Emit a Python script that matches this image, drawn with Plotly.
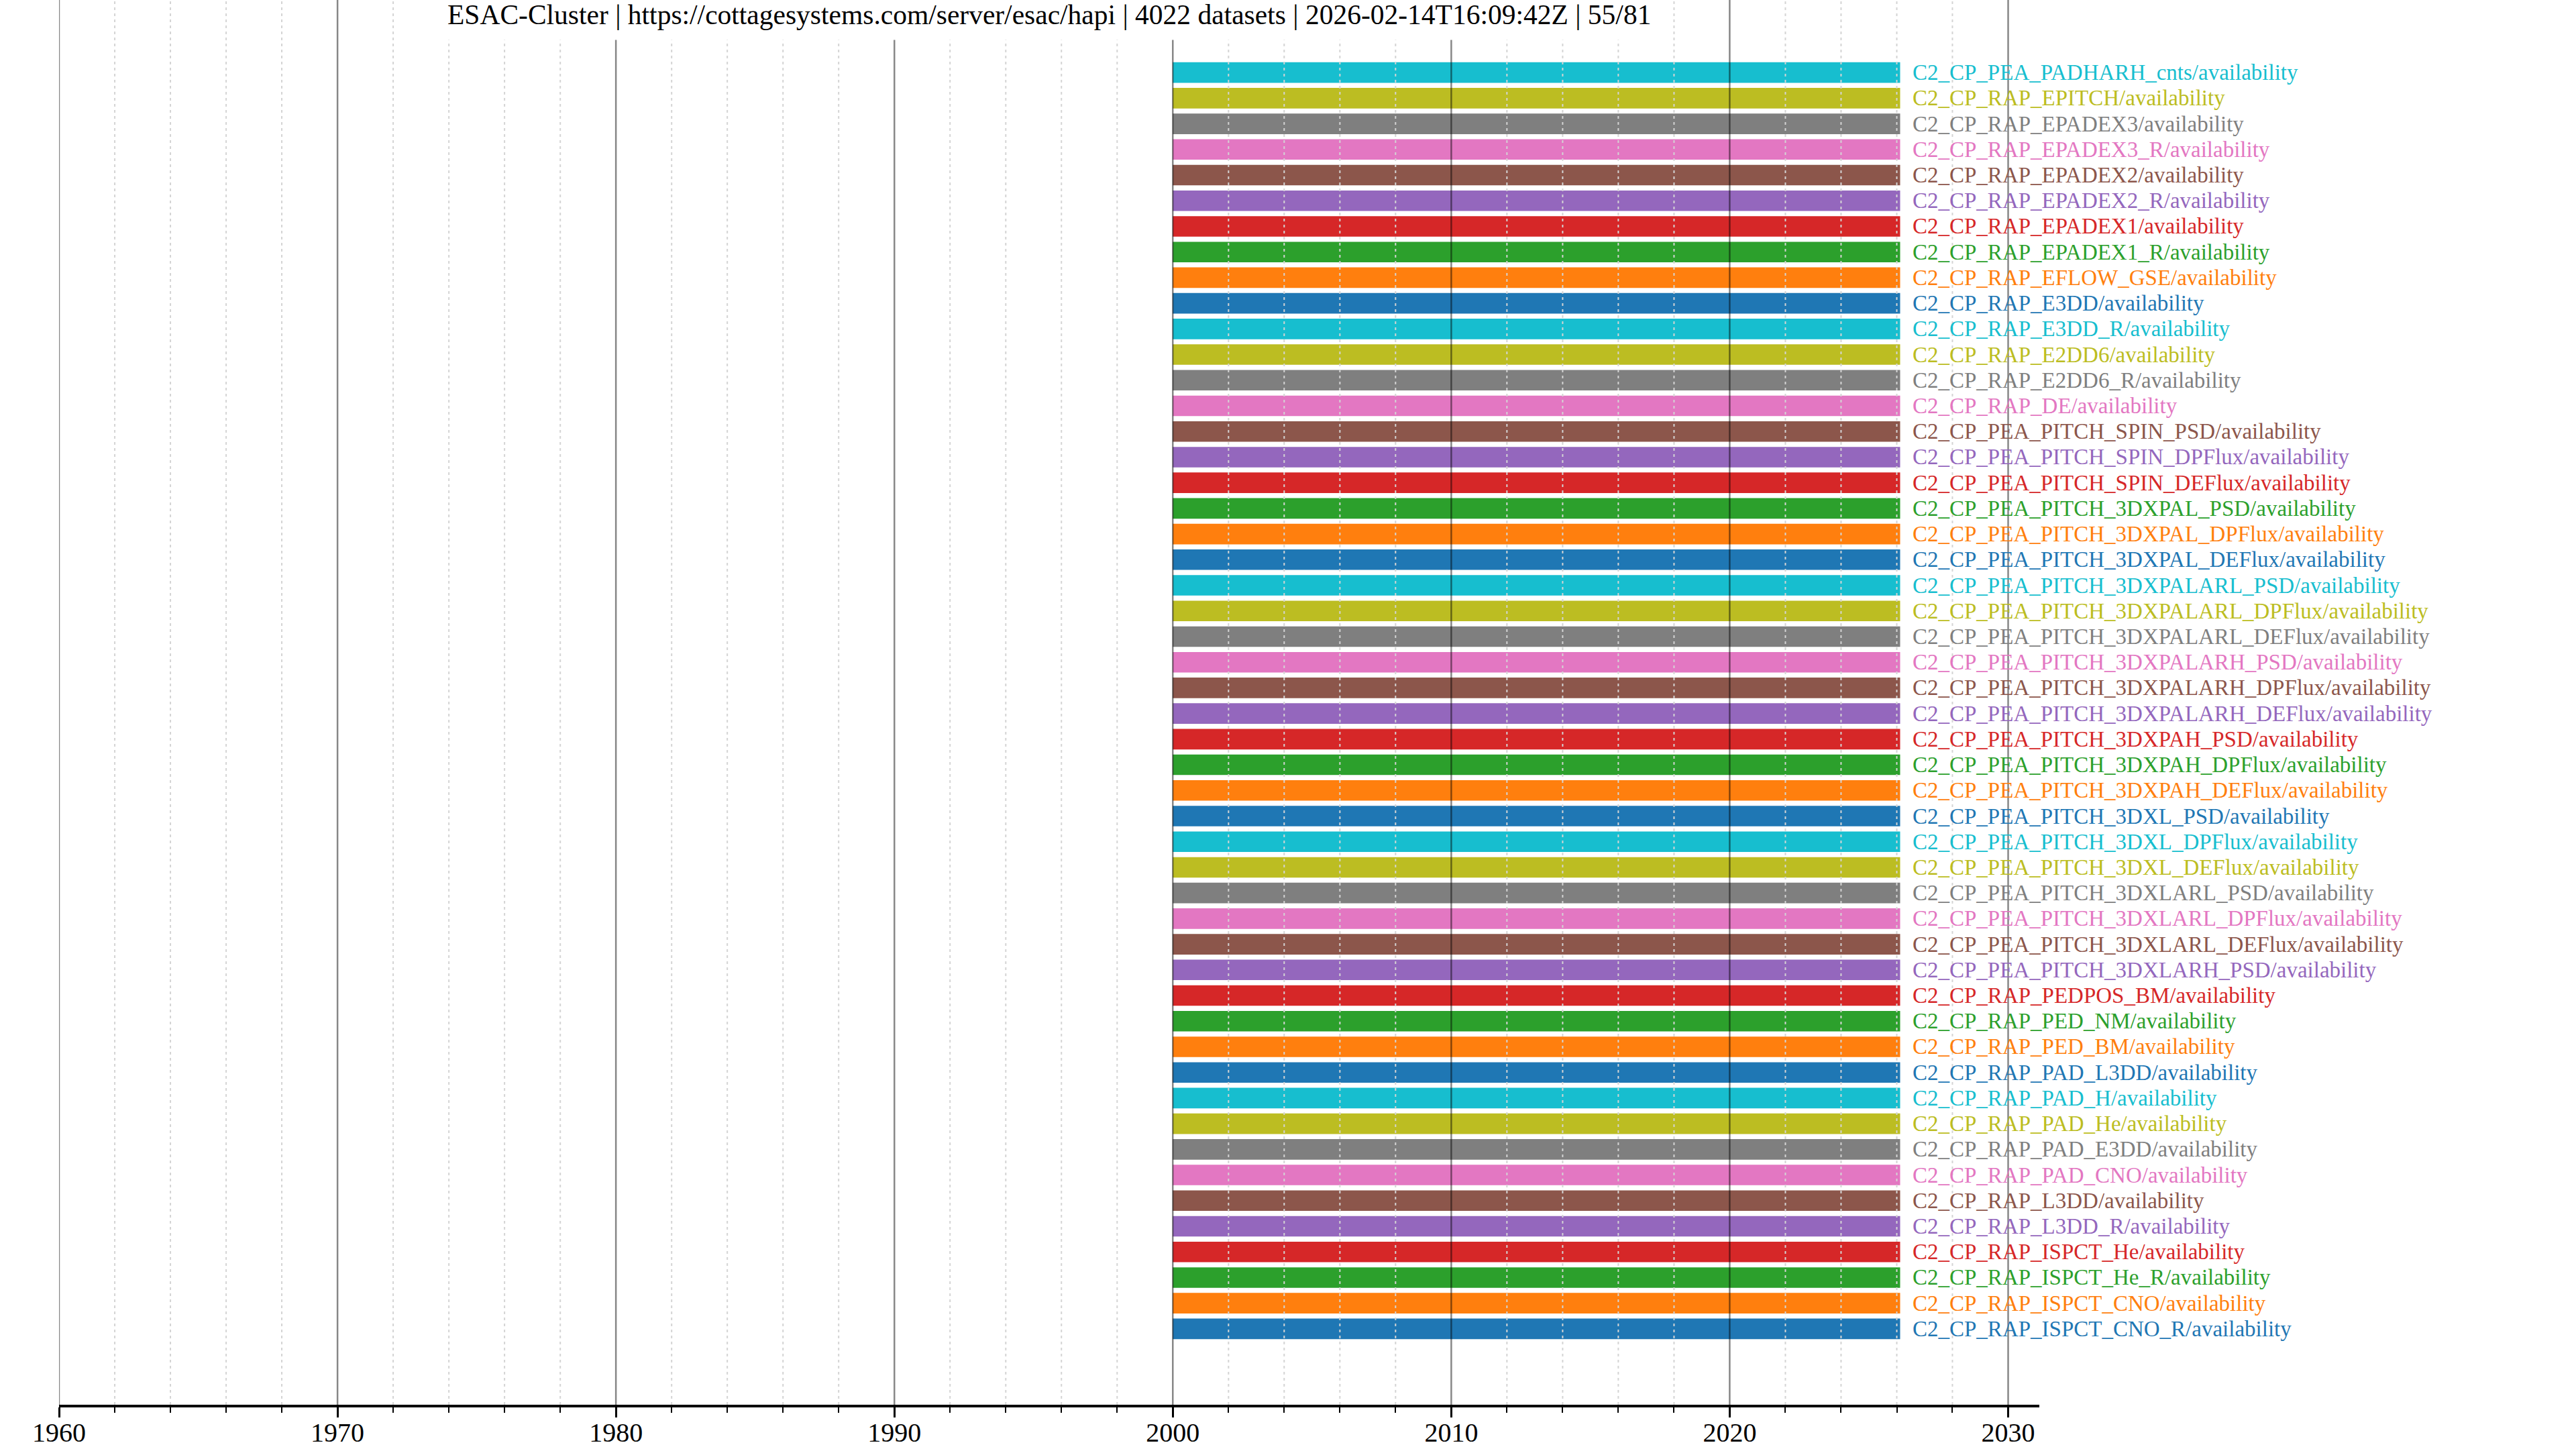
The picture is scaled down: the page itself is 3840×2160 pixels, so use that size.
import pandas as pd
import plotly.graph_objects as go

TITLE = ("ESAC-Cluster | https://cottagesystems.com/server/esac/hapi | 4022 datasets | "
         "2026-02-14T16:09:42Z | 55/81")

# dataset names, listed top to bottom as in the chart
names_top_down = [
    "C2_CP_PEA_PADHARH_cnts/availability",
    "C2_CP_RAP_EPITCH/availability",
    "C2_CP_RAP_EPADEX3/availability",
    "C2_CP_RAP_EPADEX3_R/availability",
    "C2_CP_RAP_EPADEX2/availability",
    "C2_CP_RAP_EPADEX2_R/availability",
    "C2_CP_RAP_EPADEX1/availability",
    "C2_CP_RAP_EPADEX1_R/availability",
    "C2_CP_RAP_EFLOW_GSE/availability",
    "C2_CP_RAP_E3DD/availability",
    "C2_CP_RAP_E3DD_R/availability",
    "C2_CP_RAP_E2DD6/availability",
    "C2_CP_RAP_E2DD6_R/availability",
    "C2_CP_RAP_DE/availability",
    "C2_CP_PEA_PITCH_SPIN_PSD/availability",
    "C2_CP_PEA_PITCH_SPIN_DPFlux/availability",
    "C2_CP_PEA_PITCH_SPIN_DEFlux/availability",
    "C2_CP_PEA_PITCH_3DXPAL_PSD/availability",
    "C2_CP_PEA_PITCH_3DXPAL_DPFlux/availability",
    "C2_CP_PEA_PITCH_3DXPAL_DEFlux/availability",
    "C2_CP_PEA_PITCH_3DXPALARL_PSD/availability",
    "C2_CP_PEA_PITCH_3DXPALARL_DPFlux/availability",
    "C2_CP_PEA_PITCH_3DXPALARL_DEFlux/availability",
    "C2_CP_PEA_PITCH_3DXPALARH_PSD/availability",
    "C2_CP_PEA_PITCH_3DXPALARH_DPFlux/availability",
    "C2_CP_PEA_PITCH_3DXPALARH_DEFlux/availability",
    "C2_CP_PEA_PITCH_3DXPAH_PSD/availability",
    "C2_CP_PEA_PITCH_3DXPAH_DPFlux/availability",
    "C2_CP_PEA_PITCH_3DXPAH_DEFlux/availability",
    "C2_CP_PEA_PITCH_3DXL_PSD/availability",
    "C2_CP_PEA_PITCH_3DXL_DPFlux/availability",
    "C2_CP_PEA_PITCH_3DXL_DEFlux/availability",
    "C2_CP_PEA_PITCH_3DXLARL_PSD/availability",
    "C2_CP_PEA_PITCH_3DXLARL_DPFlux/availability",
    "C2_CP_PEA_PITCH_3DXLARL_DEFlux/availability",
    "C2_CP_PEA_PITCH_3DXLARH_PSD/availability",
    "C2_CP_RAP_PEDPOS_BM/availability",
    "C2_CP_RAP_PED_NM/availability",
    "C2_CP_RAP_PED_BM/availability",
    "C2_CP_RAP_PAD_L3DD/availability",
    "C2_CP_RAP_PAD_H/availability",
    "C2_CP_RAP_PAD_He/availability",
    "C2_CP_RAP_PAD_E3DD/availability",
    "C2_CP_RAP_PAD_CNO/availability",
    "C2_CP_RAP_L3DD/availability",
    "C2_CP_RAP_L3DD_R/availability",
    "C2_CP_RAP_ISPCT_He/availability",
    "C2_CP_RAP_ISPCT_He_R/availability",
    "C2_CP_RAP_ISPCT_CNO/availability",
    "C2_CP_RAP_ISPCT_CNO_R/availability",
]

# availability intervals (top to bottom)
starts_top_down = ["2000-01-01"] * len(names_top_down)
ends_top_down = ["2026-02-14"] * len(names_top_down)

x_range = ["1960-01-01", "2031-02-14"]
grid_years = list(range(1960, 2032, 2))

TAB10 = ["#1f77b4", "#ff7f0e", "#2ca02c", "#d62728", "#9467bd",
         "#8c564b", "#e377c2", "#7f7f7f", "#bcbd22", "#17becf"]

FONT = "Liberation Serif"

# plot bottom-to-top
names = names_top_down[::-1]
starts = starts_top_down[::-1]
ends = ends_top_down[::-1]
colors = [TAB10[i % 10] for i in range(len(names))]
durations = [(pd.Timestamp(e) - pd.Timestamp(s)).total_seconds() * 1000.0
             for s, e in zip(starts, ends)]

fig = go.Figure()
fig.add_trace(go.Bar(
    y=names, x=durations, base=starts, orientation="h",
    marker=dict(color=colors, line=dict(width=0)),
    width=0.8, showlegend=False, hoverinfo="skip",
))

annotations = []
for n, e, c in zip(names, ends, colors):
    annotations.append(dict(
        x=e, y=n, xref="x", yref="y", text=n, showarrow=False,
        xanchor="left", yanchor="middle", xshift=16,
        font=dict(family=FONT, size=33, color=c),
    ))

annotations.append(dict(
    x=0.5, y=1, xref="paper", yref="paper", text=TITLE, showarrow=False,
    xanchor="center", yanchor="top", yshift=16,
    bgcolor="white", borderpad=14,
    font=dict(family=FONT, size=41.5, color="black"),
))

shapes = []
for yr in grid_years:
    major = (yr % 10 == 0)
    shapes.append(dict(
        type="line", xref="x", yref="paper",
        x0=f"{yr}-01-01", x1=f"{yr}-01-01", y0=0, y1=1,
        layer="above",
        line=dict(color="rgba(0,0,0,0.47)" if major else "#d4d4d4",
                  width=2.5 if major else 2,
                  dash="solid" if major else "4px,5px"),
    ))

fig.update_layout(
    width=3840, height=2160,
    margin=dict(l=88, r=800, t=0, b=66),
    paper_bgcolor="white", plot_bgcolor="white",
    bargap=0.2,
    annotations=annotations,
    shapes=shapes,
    font=dict(family=FONT, color="black"),
)

fig.update_xaxes(
    type="date", range=x_range, automargin=False,
    tick0="1960-01-01", dtick="M120", tickformat="%Y",
    ticks="outside", ticklen=15, tickwidth=2.5, tickcolor="black",
    ticklabelstandoff=-12,
    showline=True, linecolor="black", linewidth=3.5,
    showgrid=False, zeroline=False,
    tickfont=dict(family=FONT, size=40, color="black"),
    minor=dict(tick0="1960-01-01", dtick="M24", ticks="outside", ticklen=8,
               tickwidth=2, tickcolor="black", showgrid=False),
)
fig.update_yaxes(
    type="category", categoryorder="array", categoryarray=names,
    range=[-2.96, 51.83], showticklabels=False, showgrid=False,
    zeroline=False, showline=False, ticks="", automargin=False,
)

fig.write_html(
    "out.html",
    config={"displayModeBar": False},
    post_script="document.body.style.margin='0';document.body.style.overflow='hidden';",
)
